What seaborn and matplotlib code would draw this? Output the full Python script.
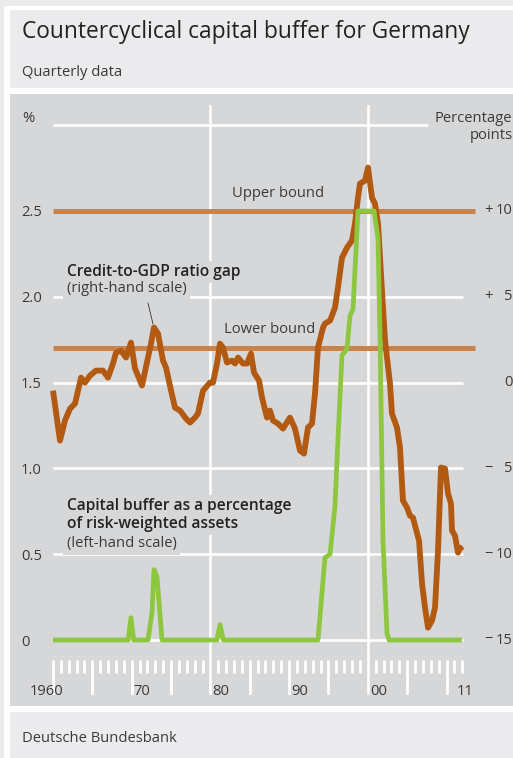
import matplotlib
matplotlib.use("Agg")
import matplotlib.pyplot as plt
import matplotlib.transforms as mtransforms
from matplotlib.patches import Rectangle
import numpy as np
import pandas as pd
import seaborn as sns

W, H, DPI = 513, 758, 100

# Credit-to-GDP ratio gap, percentage points (right-hand scale)
gap_dates = [1960.00, 1960.89, 1961.52, 1962.16, 1962.80, 1963.18, 1963.56, 1964.07,
             1964.70, 1965.46, 1966.35, 1966.99, 1967.62, 1968.01, 1968.64, 1969.28,
             1969.91, 1970.42, 1971.31, 1972.07, 1972.45, 1972.83, 1973.34, 1973.98,
             1974.36, 1975.00, 1975.50, 1976.14, 1976.90, 1977.41, 1978.04, 1978.42,
             1979.06, 1979.95, 1980.33, 1980.84, 1981.22, 1981.60, 1982.11, 1982.74,
             1983.13, 1983.51, 1984.14, 1984.65, 1985.16, 1985.54, 1986.18, 1986.56,
             1987.19, 1987.57, 1987.95, 1988.59, 1989.22, 1990.11, 1990.75, 1991.38,
             1991.89, 1992.40, 1992.91, 1993.29, 1993.67, 1994.31, 1994.56, 1995.20,
             1995.83, 1996.21, 1996.72, 1997.36, 1997.99, 1998.37, 1998.75, 1999.01,
             1999.64, 2000.03, 2000.53, 2000.91, 2001.30, 2001.80, 2002.19, 2002.82,
             2003.07, 2003.71, 2004.09, 2004.47, 2004.98, 2005.36, 2005.74, 2006.00,
             2006.51, 2006.89, 2007.27, 2007.65, 2008.16, 2008.54, 2008.92, 2009.30,
             2009.81, 2010.19, 2010.57, 2010.70, 2011.08, 2011.46, 2011.72, 2011.95]
gap_values = [-0.47, -3.38, -2.21, -1.52, -1.22, -0.47, 0.29, 0.00,
              0.41, 0.70, 0.70, 0.29, 1.11, 1.75, 1.86, 1.46,
              2.33, 0.82, -0.17, 1.46, 2.27, 3.21, 2.86, 1.28,
              0.87, -0.47, -1.46, -1.63, -2.10, -2.33, -2.04, -1.81,
              -0.47, 0.00, 0.00, 1.11, 2.27, 2.04, 1.17, 1.28,
              1.11, 1.46, 1.11, 1.11, 1.69, 0.58, 0.12, -0.87,
              -2.04, -1.63, -2.21, -2.39, -2.68, -2.04, -2.68, -3.96,
              -4.14, -2.62, -2.39, -0.64, 2.04, 3.21, 3.44, 3.61,
              4.37, 5.54, 7.28, 7.87, 8.28, 9.27, 10.78, 11.60,
              11.77, 12.53, 10.78, 10.43, 9.27, 5.36, 2.45, -0.06,
              -1.81, -2.62, -3.79, -6.88, -7.28, -7.75, -7.87, -8.33,
              -9.21, -11.71, -13.11, -14.28, -13.87, -13.11, -9.79, -4.95,
              -5.01, -6.47, -7.05, -8.62, -8.92, -9.91, -9.62, -9.79]

# Capital buffer as % of risk-weighted assets (left-hand scale)
buffer_dates = [1960.00, 1969.55, 1969.90, 1970.25, 1972.07, 1972.58, 1972.83, 1973.21,
                1973.85, 1980.84, 1981.22, 1981.65, 1993.67, 1994.56, 1995.20, 1995.83,
                1996.21, 1996.72, 1997.10, 1997.36, 1997.74, 1998.12, 1998.75, 2000.79,
                2001.30, 2001.56, 2001.93, 2002.44, 2002.69, 2011.95]
buffer_values = [0.00, 0.00, 0.13, 0.00, 0.00, 0.16, 0.41, 0.37,
                 0.00, 0.00, 0.09, 0.00, 0.00, 0.48, 0.50, 0.78,
                 1.17, 1.66, 1.68, 1.70, 1.89, 1.93, 2.50, 2.50,
                 2.34, 1.75, 0.58, 0.04, 0.00, 0.00]

lower_bound = 2
upper_bound = 10

left_ticks = [0, 0.5, 1.0, 1.5, 2.0, 2.5]
left_tick_labels = ["0", "0.5", "1.0", "1.5", "2.0", "2.5"]
right_ticks = [10, 5, 0, -5, -10, -15]
right_signs = ["+", "+", "", "\u2212", "\u2212", "\u2212"]
right_digits = ["10", "5", "0", "5", "10", "15"]
year_ticks = [1960, 1970, 1980, 1990, 2000, 2011]
year_labels = ["1960", "70", "80", "90", "00", "11"]

ORANGE = "#b35a12"
BOUND = "#c8834c"
GREEN = "#8dc63f"
PANEL = "#d6d7d9"
LIGHT = "#ebebed"
TEXT = "#3a3a3a"
FS = 10.6

sns.set_theme(style="white")
plt.rcParams["font.family"] = ["Open Sans", "DejaVu Sans"]
plt.rcParams["text.color"] = TEXT

fig = plt.figure(figsize=(W / DPI, H / DPI), dpi=DPI, facecolor=LIGHT)
# pixel coordinates measured from the top-left corner
PX = mtransforms.Affine2D().scale(1 / W, -1 / H).translate(0, 1) + fig.transFigure


def panel(x0, y0, x1, y1, color):
    fig.patches.append(Rectangle((x0, y1), x1 - x0, y0 - y1, transform=PX,
                                 facecolor=color, edgecolor="none", zorder=-10))


panel(4, 6, 513, 758, "white")
panel(10, 10, 513, 88, LIGHT)
panel(10, 94, 513, 706, PANEL)
panel(10, 712, 513, 758, LIGHT)

fig.text(22, 38, "Countercyclical capital buffer for Germany", transform=PX,
         fontsize=16.4, color="#222222", va="baseline")
fig.text(22, 76, "Quarterly data", transform=PX, fontsize=FS, va="baseline")
fig.text(22, 742, "Deutsche Bundesbank", transform=PX, fontsize=FS, va="baseline")

# axes geometry: 1960 at x=53 px, 7.87 px per year; 0 % at y=640 px, 171.6 px per percent
ax_l, ax_r, ax_t, ax_b = 45, 480, 105, 695
PPY, X0 = 7.87, 53
PPU, Y0 = 171.6, 640
ax = fig.add_axes([ax_l / W, 1 - ax_b / H, (ax_r - ax_l) / W, (ax_b - ax_t) / H])
ax2 = ax.twinx()
ax.set_zorder(ax2.get_zorder() + 1)
ax.patch.set_visible(False)
ax2.patch.set_visible(False)

xlim = (1960 + (ax_l - X0) / PPY, 1960 + (ax_r - X0) / PPY)
ylim = ((Y0 - ax_b) / PPU, (Y0 - ax_t) / PPU)
for a in (ax, ax2):
    a.set_xlim(*xlim)
    for s in a.spines.values():
        s.set_visible(False)
    a.tick_params(length=0)
ax.set_ylim(*ylim)
ax2.set_ylim((ylim[0] - 1.5) * 10, (ylim[1] - 1.5) * 10)


def yr(px):
    return 1960 + (px - X0) / PPY


def gap_at(py):
    return ((Y0 - py) / PPU - 1.5) * 10


# white grid (on the gap scale, which shares positions with the left scale)
for g in right_ticks:
    ax2.hlines(g, 1960, yr(463), color="white", lw=1.9, zorder=1)
ax2.hlines(15, 1960, yr(428), color="white", lw=1.9, zorder=1)
for v in (1980, 2000):
    ax2.axvline(v, color="white", lw=1.9, zorder=1)

# year tick marks below the plot
for y in range(1960, 2013):
    if y in (1980, 2000):
        continue
    ax2.vlines(y, gap_at(673) if y % 5 else gap_at(ax_b), gap_at(660),
               color="white", lw=2.0, zorder=1)

ax.set_xticks([])
ax2.set_xticks([])

# bounds
ax2.hlines([lower_bound, upper_bound], 1960, yr(475), color=BOUND, lw=3.6, zorder=2)

# data
gap_df = pd.DataFrame({"date": gap_dates, "gap": gap_values})
buf_df = pd.DataFrame({"date": buffer_dates, "buffer": buffer_values})
sns.lineplot(data=gap_df, x="date", y="gap", ax=ax2, color=ORANGE, lw=4.2,
             zorder=4, solid_joinstyle="round", solid_capstyle="butt")
sns.lineplot(data=buf_df, x="date", y="buffer", ax=ax, color=GREEN, lw=3.4,
             zorder=4, solid_joinstyle="round", solid_capstyle="butt")
for a in (ax, ax2):
    a.set_xlabel("")
    a.set_ylabel("")

# left scale
ax.set_yticks(left_ticks)
ax.set_yticklabels(left_tick_labels, fontsize=FS, color=TEXT)
ax.tick_params(axis="y", pad=(ax_l - 21) * 0.72)
for t in ax.get_yticklabels():
    t.set_ha("left")
ax2.set_yticks([])

# right scale: sign on the left, digits flush right
rt = mtransforms.blended_transform_factory(fig.transFigure, ax2.transData)
for v, s, d in zip(right_ticks, right_signs, right_digits):
    if s:
        ax2.text(484 / W, v, s, transform=rt, fontsize=FS, ha="left", va="center")
    ax2.text(512.5 / W, v, d, transform=rt, fontsize=FS, ha="right", va="center",
             clip_on=False)

fig.text(22, 122, "%", transform=PX, fontsize=FS, va="baseline")
fig.text(512.5, 122, "Percentage", transform=PX, fontsize=FS, va="baseline", ha="right")
fig.text(512.5, 139, "points", transform=PX, fontsize=FS, va="baseline", ha="right")

# year labels
for y, lab in zip(year_ticks, year_labels):
    if y == 1960:
        fig.text(63, 695, lab, transform=PX, fontsize=FS, va="baseline", ha="right")
    else:
        fig.text(X0 + (y - 1960) * PPY + 2, 695, lab, transform=PX, fontsize=FS,
                 va="baseline", ha="left")

# annotations with knocked-out background
box = dict(facecolor=PANEL, edgecolor="none", pad=2.5)


def note(x, y, s, bold=False):
    ax2.text(x, y, s, transform=PX, fontsize=11.2 if bold else FS, va="baseline",
             bbox=box, zorder=3, fontweight="semibold" if bold else "normal",
             color="#222222" if bold else TEXT)


note(67, 276, "Credit-to-GDP ratio gap", bold=True)
note(67, 292, "(right-hand scale)")
note(67, 510, "Capital buffer as a percentage", bold=True)
note(67, 528, "of risk-weighted assets", bold=True)
note(67, 547, "(left-hand scale)")
ax2.text(278, 197, "Upper bound", transform=PX, fontsize=FS, va="baseline", ha="center")
ax2.text(270, 333, "Lower bound", transform=PX, fontsize=FS, va="baseline", ha="center")

# leader from the label to the 1972 peak
ax2.plot([148, 153], [303, 324], transform=PX, color="#333333", lw=0.6, zorder=3)

fig.savefig("out.png", dpi=DPI, facecolor=fig.get_facecolor())
